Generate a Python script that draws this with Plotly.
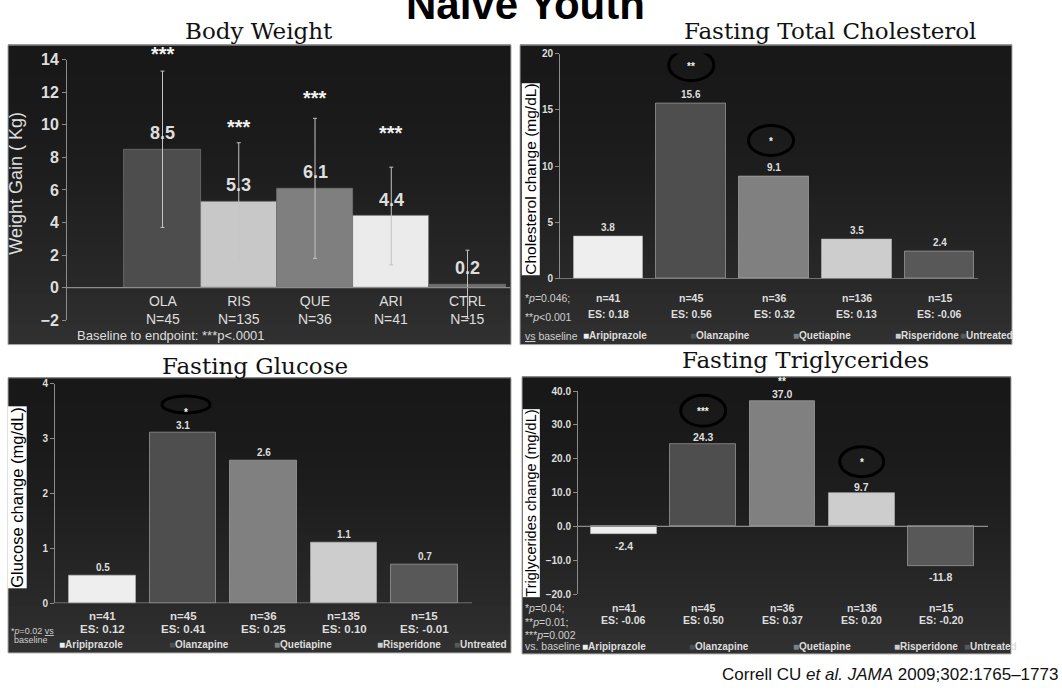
import plotly.graph_objects as go

# ---------------- data ----------------
bw_groups = ["OLA", "RIS", "QUE", "ARI", "CTRL"]
bw_n = [45, 135, 36, 41, 15]
bw_gain = [8.5, 5.3, 6.1, 4.4, 0.2]
bw_sd = [4.8, 3.6, 4.3, 3.0, 2.1]
bw_sig = ["***", "***", "***", "***", ""]
bw_ticks = [-2, 0, 2, 4, 6, 8, 10, 12, 14]

drugs = ["Aripiprazole", "Olanzapine", "Quetiapine", "Risperidone", "Untreated"]

chol_change = [3.8, 15.6, 9.1, 3.5, 2.4]
chol_n = [41, 45, 36, 136, 15]
chol_es = ["0.18", "0.56", "0.32", "0.13", "-0.06"]
chol_sig = ["", "**", "*", "", ""]
chol_ticks = [0, 5, 10, 15, 20]

glu_change = [0.5, 3.1, 2.6, 1.1, 0.7]
glu_n = [41, 45, 36, 135, 15]
glu_es = ["0.12", "0.41", "0.25", "0.10", "-0.01"]
glu_sig = ["", "*", "", "", ""]
glu_ticks = [0, 1, 2, 3, 4]

tg_change = [-2.4, 24.3, 37.0, 9.7, -11.8]
tg_n = [41, 45, 36, 136, 15]
tg_es = ["-0.06", "0.50", "0.37", "0.20", "-0.20"]
tg_sig = ["", "***", "**", "*", ""]
tg_ticks = [-20, -10, 0, 10, 20, 30, 40]

# ---------------- styling ----------------
W, H = 1062, 700


def fx(px):
    return px / W


def fy(py):
    return 1 - py / H


SANS = "Liberation Sans, Arial, sans-serif"
SERIF = "DejaVu Serif, serif"
LIGHT = "#dedede"
AXIS = "#8c8c8c"

bw_colors = ["#4d4d4d", "#c8c8c8", "#7f7f7f", "#ebebeb", "#6e6e6e"]
drug_colors = ["#eeeeee", "#4e4e4e", "#808080", "#cdcdcd", "#585858"]

fig = go.Figure()
shapes = []
ann = []


def panel_bg(x0, y0, x1, y1, n=30):
    step = (y1 - y0) / n
    for k in range(n):
        t = k / (n - 1)
        v = int(round(24 + 24 * t ** 1.7))
        shapes.append(dict(type="rect", xref="paper", yref="paper", layer="below",
                           x0=fx(x0), x1=fx(x1), y0=fy(y0 + step * k - 0.5),
                           y1=fy(min(y1, y0 + step * (k + 1) + 0.5)),
                           fillcolor=f"rgb({v},{v},{v})", line=dict(width=0)))
    shapes.append(dict(type="rect", xref="paper", yref="paper", layer="below",
                       x0=fx(x0), x1=fx(x1), y0=fy(y0), y1=fy(y1),
                       fillcolor="rgba(0,0,0,0)", line=dict(color="#a8a8a8", width=1)))


def text(x, y, s, size, color=LIGHT, family=SANS, weight="normal", xref="paper", yref="paper",
         xanchor="center", yanchor="middle", yshift=0, xshift=0, angle=0, **kw):
    ann.append(dict(x=x, y=y, xref=xref, yref=yref, text=s, showarrow=False,
                    xanchor=xanchor, yanchor=yanchor, yshift=yshift, xshift=xshift,
                    textangle=angle,
                    font=dict(family=family, size=size, color=color, weight=weight), **kw))


def set_axes(k, xdom, xr, ydom, yr, tickvals, tickfont, tickformat=None):
    sx = "" if k == 1 else str(k)
    fig.update_layout(**{
        "xaxis" + sx: dict(domain=[fx(xdom[0]), fx(xdom[1])], range=xr, visible=False,
                           anchor="y" + sx, fixedrange=True),
        "yaxis" + sx: dict(domain=[fy(ydom[0]), fy(ydom[1])], range=yr, anchor="x" + sx,
                           showline=True, linecolor=AXIS, linewidth=1, ticks="outside",
                           ticklen=4, tickcolor=AXIS, showgrid=False, zeroline=False,
                           tickvals=tickvals, tickfont=tickfont, tickformat=tickformat,
                           fixedrange=True),
    })
    shapes.append(dict(type="line", xref=f"x{sx} domain", x0=0, x1=1, yref="y" + sx,
                       y0=0, y1=0, line=dict(color=AXIS, width=1.2)))


xs = [1, 2, 3, 4, 5]

# ---------------- Body Weight ----------------
panel_bg(8, 38, 511, 345)
set_axes(1, (67, 510), [-0.2525, 5.557], (320, 53), [-2, 14], bw_ticks,
         dict(family=SANS, size=16, color=LIGHT, weight="bold"))
fig.add_trace(go.Bar(
    x=xs, y=bw_gain, width=1.0, xaxis="x", yaxis="y", showlegend=False, hoverinfo="skip",
    marker=dict(color=bw_colors, line=dict(color="#707070", width=0.8)),
    error_y=dict(type="data", array=bw_sd, color="#c4c4c4", thickness=1, width=2)))
star_lift = [17, 16, 20, 34, 0]
for i, (g, n, v, sd, s) in enumerate(zip(bw_groups, bw_n, bw_gain, bw_sd, bw_sig)):
    text(xs[i], v, f"{v:.1f}", 18, xref="x", yref="y", yshift=16, weight="bold")
    if s:
        text(xs[i], v + sd, s, 20, color="#f2f2f2", xref="x", yref="y",
             yshift=star_lift[i], weight="bold")
    text(xs[i], fy(310), f"{g}<br>N={n}", 14, xref="x")
text(fx(16), fy(180), "Weight Gain ( Kg)", 18, angle=-90)
text(fx(75), fy(336), "Baseline to endpoint: ***p&lt;.0001", 13, xanchor="left")
text(fx(259), fy(24), "Body Weight", 23, color="#111111", family=SERIF)

# ---------------- metabolic panels ----------------
panels = [
    dict(k=2, vals=chol_change, ns=chol_n, es=chol_es, sig=chol_sig, ticks=chol_ticks, tfmt="d",
         bg=(520, 38, 1012, 345), xdom=(560, 978), xr=[0.414, 5.465],
         ydom=(277.7, 46.7), yr=[0, 20], width=0.84, lab_off=9, lab_size=10,
         title="Fasting Total Cholesterol", title_pos=(830, 24),
         ytitle="Cholesterol change (mg/dL)", ytitle_pos=(531, 176), ytitle_size=15.5,
         n_y=297.7, es_y=314, nes_size=10.5, leg_y=335.7,
         leg_x=[581, 688, 791, 893, 958],
         notes=[(523, 297.7, "*<i>p</i>=0.046;"), (523, 316.7, "**<i>p</i>&lt;0.001"),
                (523, 335.7, "<u>vs</u> baseline")], note_size=10.5,
         rings=[None, (0, 38, 45, 31, 0), (-3, 36, 45, 30, 0), None, None]),
    dict(k=3, vals=glu_change, ns=glu_n, es=glu_es, sig=glu_sig, ticks=glu_ticks, tfmt="d",
         bg=(8, 379, 511, 661), xdom=(55, 472), xr=[0.41, 5.59],
         ydom=(610, 385), yr=[0, 4], width=0.83, lab_off=8, lab_size=10,
         title="Fasting Glucose", title_pos=(255, 367),
         ytitle="Glucose change (mg/dL)", ytitle_pos=(17, 502), ytitle_size=16.5,
         n_y=623, es_y=636, nes_size=11.5, leg_y=652,
         leg_x=[57, 167, 272, 375, 452],
         notes=[(9, 638, "*<i>p</i>=0.02 <u>vs</u>"), (12, 648, "baseline")], note_size=9,
         rings=[None, (3, 28.6, 48, 17, -7), None, None, None]),
    dict(k=4, vals=tg_change, ns=tg_n, es=tg_es, sig=tg_sig, ticks=tg_ticks, tfmt=".1f",
         bg=(522, 378, 1011, 662), xdom=(578, 988), xr=[0.42, 5.593],
         ydom=(600.7, 392.7), yr=[-20, 40], width=0.83, lab_off=7, lab_size=10.5,
         title="Fasting Triglycerides", title_pos=(805, 361),
         ytitle="Triglycerides change (mg/dL)", ytitle_pos=(531, 508), ytitle_size=14.5,
         n_y=615, es_y=627.3, nes_size=10.5, leg_y=654,
         leg_x=[579.5, 686.7, 790.6, 891.8, 962],
         notes=[(523, 615, "*<i>p</i>=0.04;"), (523, 629, "**<i>p</i>=0.01;"),
                (523, 642.7, "***<i>p</i>=0.002"), (523, 654, "vs. baseline")], note_size=10.5,
         rings=[None, (0, 33.6, 45, 31, 0), (0, 20.7, 47, 18, 0), (0, 32, 44, 30, 0), None]),
]

for p in panels:
    k = p["k"]
    sx = str(k)
    panel_bg(*p["bg"])
    set_axes(k, p["xdom"], p["xr"], p["ydom"], p["yr"], p["ticks"],
             dict(family=SANS, size=10, color=LIGHT, weight="bold"), p["tfmt"])
    fig.add_trace(go.Bar(
        x=xs, y=p["vals"], width=p["width"], xaxis="x" + sx, yaxis="y" + sx,
        showlegend=False, hoverinfo="skip",
        marker=dict(color=drug_colors, line=dict(color="rgba(190,190,190,0.55)", width=1))))
    for i, v in enumerate(p["vals"]):
        off = p["lab_off"] if v >= 0 else -11
        text(xs[i], v, f"{v:.1f}", p["lab_size"], weight="bold",
             xref="x" + sx, yref="y" + sx, yshift=off)
        text(xs[i], fy(p["n_y"]), f"n={p['ns'][i]}", p["nes_size"],
             weight="bold", xref="x" + sx)
        text(xs[i], fy(p["es_y"]), f"ES: {p['es'][i]}", p["nes_size"],
             weight="bold", xref="x" + sx)
        ring = p["rings"][i]
        if p["sig"][i] and ring:
            dx, dy, rw, rh, sdy = ring
            shapes.append(dict(type="circle", xref="x" + sx, yref="y" + sx,
                               xsizemode="pixel", ysizemode="pixel",
                               xanchor=xs[i], yanchor=v,
                               x0=dx - rw / 2, x1=dx + rw / 2,
                               y0=dy - rh / 2, y1=dy + rh / 2,
                               line=dict(color="#000000", width=3)))
            text(xs[i], v, p["sig"][i], 10, color="#f4f4f4", weight="bold",
                 xref="x" + sx, yref="y" + sx, yshift=dy + sdy - 1, xshift=dx)
    for (nx, ny, s) in p["notes"]:
        text(fx(nx), fy(ny), s, p["note_size"], color="#cfcfcf", xanchor="left")
    for d, c, lx in zip(drugs, drug_colors, p["leg_x"]):
        text(fx(lx), fy(p["leg_y"]),
             f"<span style='color:{c}'>■</span>{d}", 10, weight="bold",
             xanchor="left")
    text(fx(p["ytitle_pos"][0]), fy(p["ytitle_pos"][1]), p["ytitle"], p["ytitle_size"],
         color="#000000", angle=-90, bgcolor="#ffffff", borderpad=0)
    text(fx(p["title_pos"][0]), fy(p["title_pos"][1]), p["title"], 23, color="#111111",
         family=SERIF)

# ---------------- headings ----------------
text(fx(525), fy(-4), "Naïve Youth", 42, color="#000000", weight="bold")
text(fx(1060), fy(683), "Correll CU <i>et al.</i> <i>JAMA</i> 2009;302:1765–1773", 17,
     color="#111111", xanchor="right")

fig.update_layout(width=W, height=H, margin=dict(l=0, r=0, t=0, b=0),
                  paper_bgcolor="#ffffff", plot_bgcolor="rgba(0,0,0,0)",
                  showlegend=False, shapes=shapes, annotations=ann, bargap=0)

fig.write_html("out.html")
